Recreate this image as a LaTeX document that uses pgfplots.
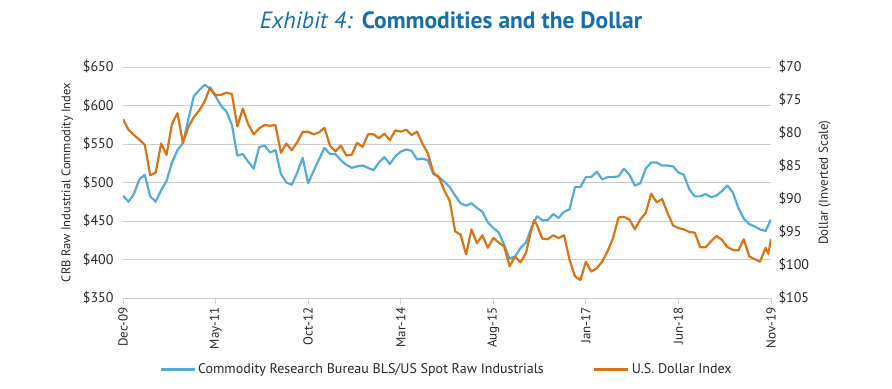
\documentclass[border=0pt]{standalone}
\usepackage{fontspec}
\setmainfont{PT Sans}
\usepackage{pgfplots}
\pgfplotsset{compat=1.18}
\definecolor{cblue}{RGB}{84,172,214}
\definecolor{corange}{RGB}{214,116,22}
\definecolor{tblue}{RGB}{22,110,170}
\definecolor{gridgray}{RGB}{205,205,205}
\definecolor{txtgray}{RGB}{40,40,40}
\begin{document}
\begin{tikzpicture}
\path[use as bounding box] (0,0) rectangle (892bp,389bp);
\node[font=\fontsize{23.5bp}{26bp}\selectfont, text=tblue] at (451bp,369bp) {\textit{Exhibit 4:}\hspace{9bp}\textbf{Commodities and the Dollar}};
\begin{axis}[
  at={(123bp,91bp)}, anchor=south west, width=648bp, height=231bp, scale only axis,
  xmin=0, xmax=119, ymin=350, ymax=650,
  xtick={0,17,34,51,68,85,102,119},
  xticklabels={Dec-09,May-11,Oct-12,Mar-14,Aug-15,Jan-17,Jun-18,Nov-19},
  x tick label style={rotate=90, anchor=east, font=\fontsize{13bp}{15bp}\selectfont, text=txtgray},
  ytick={350,400,...,650},
  yticklabel={\$\pgfmathprintnumber{\tick}},
  /pgf/number format/assume math mode=true,
  y tick label style={font=\fontsize{14bp}{16bp}\selectfont, text=txtgray},
  axis x line*=bottom, axis y line*=left,
  x axis line style={-, draw=gridgray, line width=1bp},
  y axis line style={draw=none},
  xtick style={draw=gridgray, line width=1bp},
  ytick style={draw=none},
  tick align=outside, major tick length=6bp,
  ymajorgrids, grid style={gridgray, line width=1bp},
  ylabel={CRB Raw Industrial Commodity Index},
  ylabel style={at={(axis description cs:-0.086,0.5)}, anchor=center, font=\fontsize{12.5bp}{14bp}\selectfont, text=txtgray},
  legend columns=2,
  legend style={at={(0.499,-0.31)}, anchor=center, draw=none, fill=none, font=\fontsize{14bp}{16bp}\selectfont, text=txtgray,
    /tikz/every even column/.append style={column sep=47bp}},
  legend image code/.code={\draw[#1, line width=3bp] (0bp,0bp) -- (34bp,0bp);},
]
\addplot[cblue, line width=2.2bp, line join=round] coordinates {
(0,483)(1,475)(2,485)(3,504)(4,510)(5,482)(6,475)(7,490)(8,502)(9,526)
(10,542)(11,551)(12,582)(13,612)(14,620)(15,627)(16,622)(17,612)(18,600)(19,592)
(20,575)(21,535)(22,537)(23,527)(24,518)(25,546)(26,548)(27,539)(28,542)(29,511)
(30,500)(31,497)(32,513)(33,532)(34,499)(35,515)(36,530)(37,545)(38,537)(39,537)
(40,529)(41,523)(42,519)(43,521)(44,522)(45,519)(46,516)(47,526)(48,533)(49,524)
(50,534)(51,540)(52,543)(53,541)(54,530)(55,531)(56,529)(57,511)(58,507)(59,501)
(60,494)(61,483)(62,473)(63,470)(64,473)(65,467)(66,462)(67,448)(68,441)(69,435)
(70,419)(71,401)(72,404)(73,415)(74,422)(75,441)(76,456)(77,451)(78,451)(79,459)
(80,454)(81,462)(82,465)(83,494)(84,494)(85,507)(86,507)(87,514)(88,504)(89,507)
(90,507)(91,508)(92,518)(93,510)(94,496)(95,499)(96,518)(97,526)(98,526)(99,522)
(100,522)(101,521)(102,513)(103,510)(104,491)(105,482)(106,482)(107,485)(108,481)(109,483)
(110,489)(111,496)(112,487)(113,467)(114,453)(115,446)(116,443)(117,439)(118,437)(119,452)
};
\addlegendentry{Commodity Research Bureau BLS/US Spot Raw Industrials}
\addlegendimage{corange}
\addlegendentry{U.S. Dollar Index}
\end{axis}
\begin{axis}[
  at={(123bp,91bp)}, anchor=south west, width=648bp, height=231bp, scale only axis,
  xmin=0, xmax=119, ymin=70, ymax=105, y dir=reverse,
  axis x line=none, axis y line*=right,
  y axis line style={draw=none},
  ytick={70,75,...,105},
  ytick style={draw=none},
  yticklabel={\$\pgfmathprintnumber{\tick}},
  /pgf/number format/assume math mode=true,
  y tick label style={font=\fontsize{14bp}{16bp}\selectfont, text=txtgray, xshift=4bp},
  ylabel={Dollar (Inverted Scale)},
  ylabel style={at={(axis description cs:1.083,0.5)}, anchor=center, font=\fontsize{13bp}{15bp}\selectfont, text=txtgray},
]
\addplot[corange, line width=2.2bp, line join=round] coordinates {
(0,77.9)(1,79.5)(2,80.3)(3,81.0)(4,81.8)(5,86.4)(6,86.0)(7,81.6)(8,83.3)(9,78.6)
(10,77.0)(11,81.5)(12,79.1)(13,77.6)(14,76.6)(15,75.2)(16,73.1)(17,74.3)(18,74.2)(19,73.9)
(20,74.1)(21,79.0)(22,76.3)(23,78.7)(24,80.2)(25,79.3)(26,78.8)(27,78.9)(28,78.8)(29,83.0)
(30,81.6)(31,82.6)(32,81.4)(33,79.8)(34,79.8)(35,80.2)(36,79.9)(37,79.2)(38,81.9)(39,82.8)
(40,81.9)(41,83.4)(42,83.3)(43,81.5)(44,82.1)(45,80.2)(46,80.2)(47,80.8)(48,80.1)(49,81.1)
(50,79.6)(51,79.8)(52,79.5)(53,80.3)(54,79.8)(55,81.6)(56,83.1)(57,86.0)(58,86.7)(59,88.7)
(60,90.3)(61,94.9)(62,95.4)(63,98.4)(64,94.6)(65,96.7)(66,95.5)(67,97.4)(68,95.9)(69,96.6)
(70,97.2)(71,100.2)(72,98.7)(73,99.6)(74,98.2)(75,94.6)(75.5,93.2)(76,93.9)(77,96.0)(78,96.1)(79,95.5)
(80,95.9)(81,95.5)(82,99.2)(83,101.7)(84,102.3)(85,99.5)(86,101.0)(87,100.5)(88,99.5)(89,97.9)
(90,95.9)(91,92.8)(92,92.7)(93,93.1)(94,94.6)(95,93.1)(96,92.1)(97,89.2)(98,90.5)(99,90.0)
(100,92.1)(101,94.0)(102,94.4)(103,94.6)(104,95.0)(105,95.1)(106,97.3)(107,97.3)(108,96.4)(109,95.6)
(110,96.2)(111,97.3)(112,97.7)(113,97.8)(114,96.1)(115,98.7)(116,99.1)(117,99.5)(118,97.4)(118.5,98.3)(119,96.1)
};
\end{axis}
\end{tikzpicture}
\end{document}
